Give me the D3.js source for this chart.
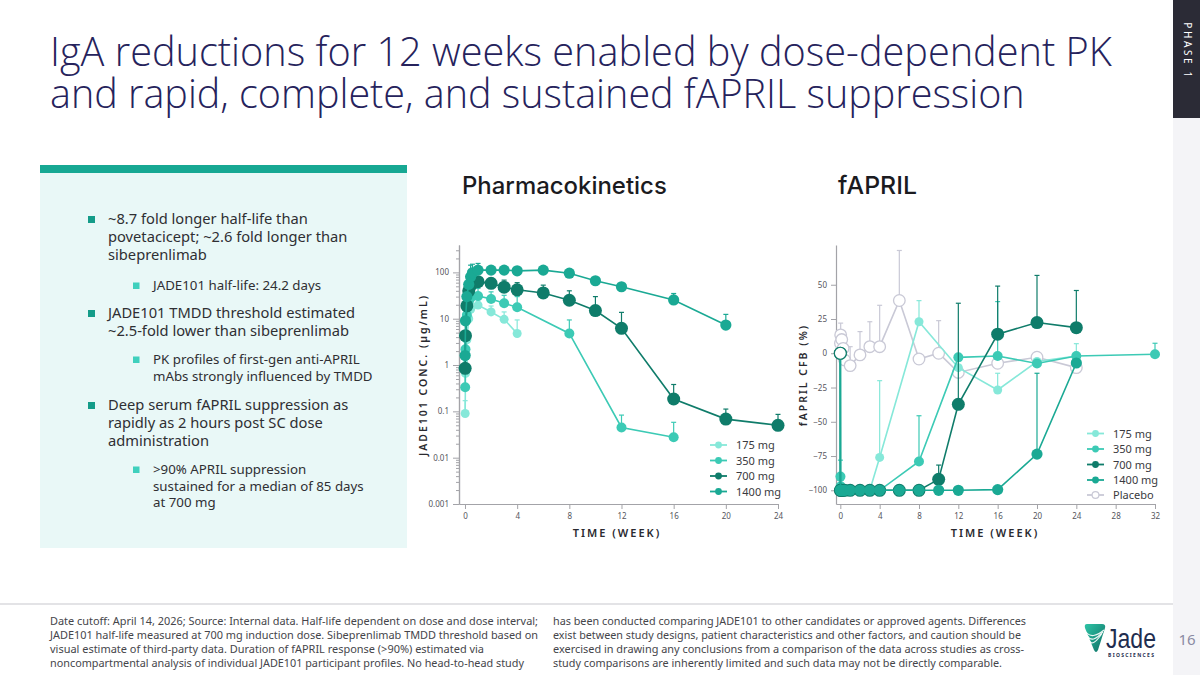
<!DOCTYPE html>
<html><head><meta charset="utf-8">
<script src="https://cdn.jsdelivr.net/npm/d3@7"></script>
<style>
html,body{margin:0;padding:0;background:#fff;}
svg{display:block;font-family:"Noto Sans","Open Sans",sans-serif;}
</style></head><body>
<svg id="c" width="1200" height="675"></svg>
<script>
// ---------------- DATA ----------------
const titleLines = ["IgA reductions for 12 weeks enabled by dose-dependent PK",
                    "and rapid, complete, and sustained fAPRIL suppression"];
const doseLabels = ["175 mg", "350 mg", "700 mg", "1400 mg"];
const fLegendLabels = ["175 mg", "350 mg", "700 mg", "1400 mg", "Placebo"];

// Pharmacokinetics (µg/mL) vs week; upper error bar ends
const pkWeeks175 = [0.012, 0.036, 0.143, 0.286, 0.429, 1, 2, 3, 4];
const pkConc175  = [0.09, 0.66, 3.5, 10, 16, 19.7, 14, 9.7, 4.8];
const pkUpper175 = [0.17, 1.2, null, null, null, 25, 18.8, 14, 9.4];

const pkWeeks350 = [0.012, 0.036, 0.143, 0.286, 0.429, 1, 2, 3, 4, 8, 12, 16];
const pkConc350  = [0.33, 2.2, 12, 22, 28, 31, 26.6, 21.5, 17.6, 4.8, 0.045, 0.0275];
const pkUpper350 = [null, null, null, null, null, 45, 38, 32, 30, 9.4, 0.083, 0.058];

const pkWeeks700 = [0.012, 0.036, 0.143, 0.286, 0.429, 1, 2, 3, 4, 6, 8, 10, 12, 16, 20, 24];
const pkConc700  = [0.85, 4.3, 19, 40, 52, 63, 58, 48, 42, 36, 25, 15, 6.2, 0.185, 0.068, 0.05];
const pkUpper700 = [null, null, null, null, null, 80, 74, 68, 60, 53, 40, 30, 13.7, 0.38, 0.112, 0.086];

const pkWeeks1400 = [0.012, 0.036, 0.143, 0.286, 0.429, 0.571, 1, 2, 3, 4, 6, 8, 10, 12, 16, 20];
const pkConc1400  = [1.6, 9, 30, 55, 80, 98, 112, 112, 112, 108, 112, 96, 66, 49, 25.4, 7.3];
const pkUpper1400 = [null, null, null, null, 143, 150, 156, null, null, null, null, null, null, null, 35, 12.4];

const pkYTicks = [0.001, 0.01, 0.1, 1, 10, 100];
const pkXTicks = [0, 4, 8, 12, 16, 20, 24];

// fAPRIL change from baseline (%) vs week; upper error bar ends
const fWeeksPlacebo = [0, 0.012, 0.036, 0.143, 0.286, 0.429, 1, 2, 3, 4, 6, 8, 10, 12, 16, 20, 24];
const fCfbPlacebo   = [0, 7.3, 13.4, 10, 3.6, -4.9, -9, -1.2, 4.8, 4.8, 38.5, -4.2, 0, -14, -7.3, -2.9, -10.5];
const fUpperPlacebo = [null, 16, 22, 16, 12, 5, 4.8, 15.8, 23, 35, 75, null, 23.8, null, null, null, null];

const fWeeks175 = [0, 0.012, 0.036, 0.143, 0.286, 0.429, 1, 2, 3, 4, 8, 12, 16, 20, 24];
const fCfb175   = [0, -100, -100, -100, -100, -100, -100, -100, -100, -76, 23, -10.5, -26.8, -6, -2];
const fUpper175 = [null, null, null, null, null, null, null, null, null, -20, 38.4, null, -14.6, null, 7];

const fWeeks350 = [0, 0.012, 0.036, 0.143, 0.286, 0.429, 1, 2, 3, 4, 8, 12, 16, 20, 24, 32];
const fCfb350   = [0, -90, -97, -100, -100, -100, -100, -100, -100, -100, -79, -3, -2, -7.5, -2, -0.7];
const fUpper350 = [null, -78, null, null, null, null, null, null, null, null, -45.6, null, 37.7, null, null, 7.3];

const fWeeks700 = [0, 0.012, 0.036, 0.143, 0.286, 0.429, 1, 2, 3, 4, 6, 8, 10, 12, 16, 20, 24];
const fCfb700   = [0, -100, -100, -100, -100, -100, -100, -100, -100, -100, -100, -100, -92, -37.3, 13.9, 22.4, 18.7];
const fUpper700 = [null, null, null, null, null, null, null, null, null, null, null, null, -81.6, 36.5, 49, 56.8, 45.8];

const fWeeks1400 = [0, 0.012, 0.036, 0.143, 0.286, 0.429, 1, 2, 3, 4, 6, 8, 10, 12, 16, 20, 24];
const fCfb1400   = [0, -100, -100, -100, -100, -100, -100, -100, -100, -100, -100, -100, -100, -100, -99.5, -73.6, -7.1];
const fUpper1400 = [null, null, null, null, null, null, null, null, null, null, null, null, null, null, null, -14.6, null];

const fYTicks = [-100, -75, -50, -25, 0, 25, 50];
const fXTicks = [0, 4, 8, 12, 16, 20, 24, 28, 32];

const bullets = [
  {lvl: 0, lines: ["~8.7 fold longer half-life than", "povetacicept; ~2.6 fold longer than", "sibeprenlimab"]},
  {lvl: 1, lines: ["JADE101 half-life: 24.2 days"]},
  {lvl: 0, lines: ["JADE101 TMDD threshold estimated", "~2.5-fold lower than sibeprenlimab"]},
  {lvl: 1, lines: ["PK profiles of first-gen anti-APRIL", "mAbs strongly influenced by TMDD"]},
  {lvl: 0, lines: ["Deep serum fAPRIL suppression as", "rapidly as 2 hours post SC dose", "administration"]},
  {lvl: 1, lines: [">90% APRIL suppression", "sustained for a median of 85 days", "at 700 mg"]}
];
const footerCol1 = [
  "Date cutoff: April 14, 2026; Source: Internal data. Half-life dependent on dose and dose interval;",
  "JADE101 half-life measured at 700 mg induction dose. Sibeprenlimab TMDD threshold based on",
  "visual estimate of third-party data. Duration of fAPRIL response (>90%) estimated via",
  "noncompartmental analysis of individual JADE101 participant profiles. No head-to-head study"
];
const footerCol2 = [
  "has been conducted comparing JADE101 to other candidates or approved agents. Differences",
  "exist between study designs, patient characteristics and other factors, and caution should be",
  "exercised in drawing any conclusions from a comparison of the data across studies as cross-",
  "study comparisons are inherently limited and such data may not be directly comparable."
];

// ---------------- STYLE ----------------
const colors = {"175 mg": "#86e8d9", "350 mg": "#3ccab5", "700 mg": "#0f7c6a", "1400 mg": "#1aa994", "Placebo": "#c9c9d6"};
const radius = {"175 mg": 4.5, "350 mg": 5, "700 mg": 6.5, "1400 mg": 5.6, "Placebo": 5.8};

const zip = (t, v, u) => t.map((d, i) => ({t: d, v: v[i], u: u[i]}));
const pkSeries = [
  {name: "175 mg", pts: zip(pkWeeks175, pkConc175, pkUpper175)},
  {name: "350 mg", pts: zip(pkWeeks350, pkConc350, pkUpper350)},
  {name: "700 mg", pts: zip(pkWeeks700, pkConc700, pkUpper700)},
  {name: "1400 mg", pts: zip(pkWeeks1400, pkConc1400, pkUpper1400)}
];
const fSeries = [
  {name: "Placebo", pts: zip(fWeeksPlacebo, fCfbPlacebo, fUpperPlacebo)},
  {name: "175 mg", pts: zip(fWeeks175, fCfb175, fUpper175)},
  {name: "350 mg", pts: zip(fWeeks350, fCfb350, fUpper350)},
  {name: "700 mg", pts: zip(fWeeks700, fCfb700, fUpper700)},
  {name: "1400 mg", pts: zip(fWeeks1400, fCfb1400, fUpper1400)}
];

const svg = d3.select("#c");

// ---------------- FRAME ----------------
svg.append("rect").attr("x", 1173).attr("y", 0).attr("width", 27).attr("height", 118).attr("fill", "#2b2b36");
svg.append("rect").attr("x", 1173).attr("y", 118).attr("width", 27).attr("height", 557).attr("fill", "#f4f4f7");
svg.append("text").attr("transform", "translate(1184,51) rotate(90)")
  .attr("text-anchor", "middle").attr("font-size", 10).attr("letter-spacing", 2.6)
  .attr("fill", "#ffffff").text("PHASE 1");

// title (one text block, two lines)
const title = svg.append("text").attr("x", 50).attr("y", 66)
  .attr("font-family", "'Open Sans','Noto Sans',sans-serif").attr("font-weight", 300)
  .attr("fill", "#26235c");
titleLines.forEach((l, i) => {
  const ts = title.append("tspan").attr("x", 50).attr("y", 66 + i * 42).attr("font-size", 38).text(l);
  const target = i === 0 ? 1062 : 975;
  const w = ts.node().getComputedTextLength();
  if (w > 0) ts.attr("font-size", 38 * target / w);
});

// left panel
svg.append("rect").attr("x", 40).attr("y", 173).attr("width", 367).attr("height", 375).attr("fill", "#e9f8f7");
svg.append("rect").attr("x", 40).attr("y", 165).attr("width", 367).attr("height", 8).attr("fill", "#17a893");
const baselines = [[224, 242, 260], [290], [318, 336], [364, 381], [410, 428, 446], [474, 491, 507]];
bullets.forEach((b, i) => {
  const ys = baselines[i];
  if (b.lvl === 0) {
    svg.append("rect").attr("x", 88).attr("y", ys[0] - 8).attr("width", 7).attr("height", 7).attr("fill", "#149c89");
  } else {
    svg.append("rect").attr("x", 133).attr("y", ys[0] - 7.5).attr("width", 6.5).attr("height", 6.5).attr("fill", "#3fd0bd");
  }
  b.lines.forEach((l, j) => {
    svg.append("text").attr("x", b.lvl === 0 ? 108 : 153).attr("y", ys[j])
      .attr("font-size", b.lvl === 0 ? 14.7 : 13.3).attr("fill", "#2f2f33").text(l);
  });
});

// headings
[["Pharmacokinetics", 462, 205], ["fAPRIL", 838, 79]].forEach(([s, x0, wT]) => {
  const t = svg.append("text").attr("x", x0).attr("y", 194).attr("font-family", "Inter,'Noto Sans',sans-serif")
    .attr("font-size", 22).attr("font-weight", 500).attr("fill", "#1b1b1f").text(s);
  const w = t.node().getComputedTextLength();
  if (w > 0) t.attr("font-size", Math.min(26, 22 * wT / w));
});

// footer
svg.append("line").attr("x1", 0).attr("x2", 1173).attr("y1", 604).attr("y2", 604).attr("stroke", "#e3e3e6").attr("stroke-width", 2);
const col1Len = [488, 488, 434, 474], col2Len = [473, 468, 471, 449];
footerCol1.forEach((l, i) => svg.append("text").attr("x", 50).attr("y", 625 + i * 14)
  .attr("font-size", 10.5).attr("fill", "#45454a").attr("textLength", col1Len[i]).attr("lengthAdjust", "spacingAndGlyphs").text(l));
footerCol2.forEach((l, i) => svg.append("text").attr("x", 553).attr("y", 625 + i * 14)
  .attr("font-size", 10.5).attr("fill", "#45454a").attr("textLength", col2Len[i]).attr("lengthAdjust", "spacingAndGlyphs").text(l));

// logo
const defs = svg.append("defs");
const g = defs.append("linearGradient").attr("id", "lg").attr("x1", 0).attr("y1", 0).attr("x2", 1).attr("y2", 1);
g.append("stop").attr("offset", 0).attr("stop-color", "#2fc4a6");
g.append("stop").attr("offset", 1).attr("stop-color", "#0c6e63");
svg.append("path").attr("d", "M1087,624 Q1084,624 1085,628 L1094,650 Q1096,654 1098,650 L1105,628 Q1106,624 1102,624 Z")
  .attr("fill", "url(#lg)");
[0, 4, 8].forEach(o => svg.append("path")
  .attr("d", `M${1086 + o * 0.4},${632 + o} Q${1092},${640 + o} ${1104 - o * 0.3},${630 + o * 0.5}`)
  .attr("fill", "none").attr("stroke", "#ffffff").attr("stroke-width", 1.2).attr("opacity", 0.9));
svg.append("text").attr("x", 1106).attr("y", 648).attr("font-family", "'Liberation Sans Narrow','Liberation Sans',sans-serif")
  .attr("font-size", 27).attr("fill", "#1f2d4f").attr("textLength", 50).attr("lengthAdjust", "spacingAndGlyphs").text("Jade");
svg.append("text").attr("x", 1108).attr("y", 657).attr("font-size", 5).attr("font-weight", 700)
  .attr("fill", "#1f2d4f").attr("textLength", 46).attr("lengthAdjust", "spacing").text("BIOSCIENCES");
svg.append("text").attr("x", 1187).attr("y", 645).attr("text-anchor", "middle").attr("font-size", 15).attr("fill", "#8a8aa3").text("16");

// ---------------- CHART HELPERS ----------------
function styleAxis(ax) {
  ax.selectAll(".domain").attr("stroke", "#a3a3a8").attr("stroke-width", 1.2);
  ax.selectAll(".tick line").attr("stroke", "#a3a3a8");
  ax.selectAll(".tick text").attr("fill", "#55555c").attr("font-size", 8).attr("font-family", "'Noto Sans',sans-serif");
}
function drawSeries(layer, series, x, y) {
  series.forEach(s => {
    const c = colors[s.name], r = radius[s.name];
    const gg = layer.append("g");
    s.pts.filter(p => p.u != null).forEach(p => {
      gg.append("line").attr("x1", x(p.t)).attr("x2", x(p.t)).attr("y1", y(p.v)).attr("y2", y(p.u))
        .attr("stroke", c).attr("stroke-width", 1.2);
      gg.append("line").attr("x1", x(p.t) - 2.5).attr("x2", x(p.t) + 2.5).attr("y1", y(p.u)).attr("y2", y(p.u))
        .attr("stroke", c).attr("stroke-width", 1.2);
    });
    gg.append("path").datum(s.pts)
      .attr("d", d3.line().x(p => x(p.t)).y(p => y(p.v)))
      .attr("fill", "none").attr("stroke", c).attr("stroke-width", 1.6);
    gg.selectAll("circle").data(s.pts).join("circle")
      .attr("cx", p => x(p.t)).attr("cy", p => y(p.v)).attr("r", r)
      .attr("fill", s.name === "Placebo" ? "#ffffff" : c)
      .attr("stroke", c).attr("stroke-width", s.name === "Placebo" ? 1.3 : 0);
  });
}
function legend(x0, ys, labels, fsz) {
  labels.forEach((l, i) => {
    const c = colors[l];
    svg.append("line").attr("x1", x0).attr("x2", x0 + 17).attr("y1", ys[i]).attr("y2", ys[i]).attr("stroke", c).attr("stroke-width", 1.8);
    svg.append("circle").attr("cx", x0 + 8.5).attr("cy", ys[i]).attr("r", 3.4)
      .attr("fill", l === "Placebo" ? "#fff" : c).attr("stroke", c).attr("stroke-width", l === "Placebo" ? 1.2 : 0);
    svg.append("text").attr("x", x0 + 26).attr("y", ys[i] + 4).attr("font-size", fsz).attr("fill", "#3a3a40").text(l);
  });
}

// ---------------- PK CHART ----------------
const px = d3.scaleLinear().domain([-0.46, 24]).range([459, 778]);
const py = d3.scaleLog().domain([0.001, 390]).range([504, 245]);
const pkMinor = [];
[0.001, 0.01, 0.1, 1, 10, 100].forEach(d => { for (let k = 2; k <= 9; k++) if (d * k <= 390) pkMinor.push(d * k); });
const pyMinor = svg.append("g").attr("transform", "translate(459,0)")
  .call(d3.axisLeft(py).tickValues(pkMinor).tickSize(3).tickFormat("").tickSizeOuter(0));
styleAxis(pyMinor);
const pyAx = svg.append("g").attr("transform", "translate(459,0)")
  .call(d3.axisLeft(py).tickValues(pkYTicks).tickSize(6).tickPadding(4).tickSizeOuter(0).tickFormat(d => String(d)));
styleAxis(pyAx);
const pxAx = svg.append("g").attr("transform", "translate(0,504)")
  .call(d3.axisBottom(px).tickValues(pkXTicks).tickSize(5).tickPadding(4).tickSizeOuter(0));
styleAxis(pxAx);
drawSeries(svg.append("g"), pkSeries, px, py);
svg.append("text").attr("x", 617).attr("y", 537).attr("text-anchor", "middle").attr("font-size", 11).attr("font-weight", 600)
  .attr("letter-spacing", 2).attr("fill", "#2a2a30").text("TIME (WEEK)");
svg.append("text").attr("transform", "translate(427,375) rotate(-90)").attr("text-anchor", "middle").attr("font-size", 10.5)
  .attr("font-weight", 600).attr("letter-spacing", 2).attr("fill", "#2a2a30").text("JADE101 CONC. (µg/mL)");
legend(710, [445, 460.5, 476, 491.5], doseLabels, 11);

// ---------------- fAPRIL CHART ----------------
const fx = d3.scaleLinear().domain([-0.44, 32]).range([836, 1155]);
const fy = d3.scaleLinear().domain([-110, 79]).range([504, 245]);
const fyAx = svg.append("g").attr("transform", "translate(836,0)")
  .call(d3.axisLeft(fy).tickValues(fYTicks).tickSize(5).tickPadding(4).tickSizeOuter(0));
styleAxis(fyAx);
const fxAx = svg.append("g").attr("transform", "translate(0,504)")
  .call(d3.axisBottom(fx).tickValues(fXTicks).tickSize(5).tickPadding(4).tickSizeOuter(0));
styleAxis(fxAx);
drawSeries(svg.append("g"), fSeries, fx, fy);
svg.append("circle").attr("cx", fx(fWeeksPlacebo[0])).attr("cy", fy(fCfbPlacebo[0])).attr("r", radius["700 mg"] - 0.5)
  .attr("fill", "#ffffff").attr("stroke", colors["700 mg"]).attr("stroke-width", 1.2);
svg.append("text").attr("x", 995).attr("y", 537).attr("text-anchor", "middle").attr("font-size", 11).attr("font-weight", 600)
  .attr("letter-spacing", 2).attr("fill", "#2a2a30").text("TIME (WEEK)");
svg.append("text").attr("transform", "translate(807,375) rotate(-90)").attr("text-anchor", "middle").attr("font-size", 10.5)
  .attr("font-weight", 600).attr("letter-spacing", 2).attr("fill", "#2a2a30").text("fAPRIL CFB (%)");
legend(1087, [433.5, 449, 464.5, 480, 495], fLegendLabels, 11);
</script>
</body></html>
